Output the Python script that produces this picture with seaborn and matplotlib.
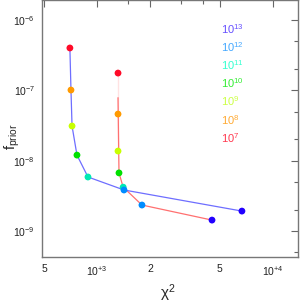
import numpy as np
import pandas as pd
import matplotlib
matplotlib.use("Agg")
import matplotlib.pyplot as plt
import matplotlib.ticker as mticker
import seaborn as sb

# data
levels = ["1e7", "1e8", "1e9", "1e10", "1e11", "1e12", "1e13"]
level_labels = [r"$10^{7}$", r"$10^{8}$", r"$10^{9}$", r"$10^{10}$",
                r"$10^{11}$", r"$10^{12}$", r"$10^{13}$"]
level_colors = ["#ff0a28", "#ff9a00", "#c8ff00", "#00e000",
                "#00e8b4", "#008cff", "#2200ff"]
text_colors = ["#ff3a50", "#ffaa33", "#ccff44", "#33ee33",
               "#33ffd0", "#44a8ff", "#6650ff"]

blue_chi2 = [698, 708, 718, 766, 885, 1420, 6680]
blue_f = [4.0e-7, 1.01e-7, 3.11e-8, 1.20e-8, 5.86e-9, 3.83e-9, 1.92e-9]
red_chi2 = [1313, 1313, 1313, 1330, 1405, 1798, 4510]
red_f = [1.76e-7, 4.6e-8, 1.37e-8, 6.7e-9, 4.2e-9, 2.34e-9, 1.43e-9]

sb.set_style("white")
plt.rcParams["font.family"] = ["Liberation Sans", "DejaVu Sans"]
plt.rcParams["mathtext.fontset"] = "custom"
plt.rcParams["mathtext.rm"] = "Liberation Sans"
plt.rcParams["mathtext.it"] = "Liberation Sans:italic"
plt.rcParams["mathtext.default"] = "regular"

df_blue = pd.DataFrame({"chi2": blue_chi2, "f": blue_f, "level": levels})
df_red = pd.DataFrame({"chi2": red_chi2, "f": red_f, "level": levels})

fig = plt.figure(figsize=(3.0, 3.03), dpi=100)
ax = fig.add_axes([0.14, 0.1518, 0.853, 0.848])

palette = dict(zip(levels, level_colors))

# curves
sb.lineplot(data=df_red, x="chi2", y="f", sort=False, color="#ff7070",
            linewidth=0.9, ax=ax)
sb.lineplot(data=df_blue, x="chi2", y="f", sort=False, color="#6e6eff",
            linewidth=0.9, ax=ax)
# points
sb.scatterplot(data=df_red, x="chi2", y="f", hue="level", palette=palette,
               s=24, edgecolor="none", legend=False, ax=ax, zorder=3)
sb.scatterplot(data=df_blue, x="chi2", y="f", hue="level", palette=palette,
               s=24, edgecolor="none", legend=False, ax=ax, zorder=4)

ax.set_xscale("log")
ax.set_yscale("log")
ax.set_xlim(484, 13930)
ax.set_ylim(4.27e-10, 1.92e-6)

# x ticks
ax.xaxis.set_major_locator(mticker.FixedLocator([500, 1000, 2000, 5000, 10000]))
ax.xaxis.set_major_formatter(mticker.FixedFormatter(
    ["5", r"$10^{+3}$", "2", "5", r"$10^{+4}$"]))
ax.xaxis.set_minor_locator(mticker.FixedLocator([1500, 3000, 4000]))
ax.xaxis.set_minor_formatter(mticker.NullFormatter())

# y ticks
ax.yaxis.set_major_locator(mticker.FixedLocator([1e-9, 1e-8, 1e-7, 1e-6]))
ax.yaxis.set_major_formatter(mticker.FixedFormatter(
    [r"$10^{-9}$", r"$10^{-8}$", r"$10^{-7}$", r"$10^{-6}$"]))
ax.yaxis.set_minor_locator(mticker.FixedLocator(
    [5e-10, 2e-9, 5e-9, 2e-8, 5e-8, 2e-7, 5e-7]))
ax.yaxis.set_minor_formatter(mticker.NullFormatter())

ax.tick_params(which="both", direction="in", top=True, right=True,
               color="#666666", labelsize=7.5, labelcolor="#222222")
ax.tick_params(which="major", length=5, width=0.8, pad=5)
ax.tick_params(which="minor", length=3, width=0.8)

for sp in ax.spines.values():
    sp.set_color("#777777")
    sp.set_linewidth(1.0)

ax.set_xlabel(r"$\chi^{2}$", fontsize=11, va="center")
ax.xaxis.set_label_coords(0.49, -0.14)
ax.set_ylabel(r"f$_{\rm prior}$", fontsize=10.5, va="center")
ax.yaxis.set_label_coords(-0.115, 0.47)

# colour key
key_y = [138, 120, 101, 83, 65, 47, 29]
for lab, col, yy in zip(level_labels, text_colors, key_y):
    ax.text(0.70, (257 - yy) / 257, lab, color=col, fontsize=8,
            transform=ax.transAxes, va="center", ha="left")

fig.savefig("out.png", dpi=100)
plt.close(fig)
